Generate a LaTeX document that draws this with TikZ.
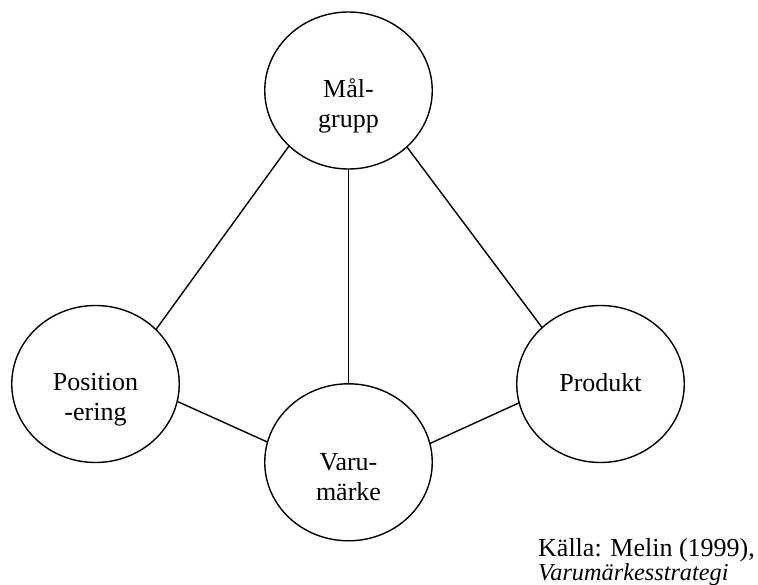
\documentclass[tikz,border=0pt]{standalone}
\usepackage{fontspec}
\setmainfont{Liberation Serif}
\usetikzlibrary{shapes.geometric}
\begin{document}
\begin{tikzpicture}[x=1pt,y=-1pt,
  bubble/.style={draw, line width=1.4pt, ellipse, minimum width=167.5pt, minimum height=157pt, inner sep=0pt, outer sep=0pt},
  label/.style={anchor=base, align=center, inner sep=0pt, font=\fontsize{26}{30}\selectfont},
  link/.style={line width=1.4pt}]
\useasboundingbox (0,0) rectangle (758,585);
\node[bubble] (mal) at (348.5,90.5) {};
\node[bubble] (pos) at (95.5,384) {};
\node[bubble] (var) at (348.5,462.3) {};
\node[bubble] (pro) at (600.5,384) {};
\node[label] (tmal) at (348.5,128) {Mål-\\grupp};
\node[label] (tpos) at (95.5,420.7) {Position\\-ering};
\node[label] (tvar) at (348.5,500) {Varu-\\märke};
\node[label] (tpro) at (600.5,391.7) {Produkt};
\node[anchor=base west, align=left, inner sep=0pt, font=\fontsize{26}{23.5}\selectfont] (src) at (538,580) {Källa: Melin (1999),\\{\fontsize{24.3}{23.5}\selectfont\itshape Varumärkesstrategi}};
\draw[link] (mal.223.3) -- (pos.42.4);
\draw[link] (mal.south) -- (var.north);
\draw[link] (mal.316.7) -- (pro.136.5);
\draw[link] (pos.-12.8) -- (var.166.7);
\draw[link] (var.13.3) -- (pro.193);
\end{tikzpicture}
\end{document}
